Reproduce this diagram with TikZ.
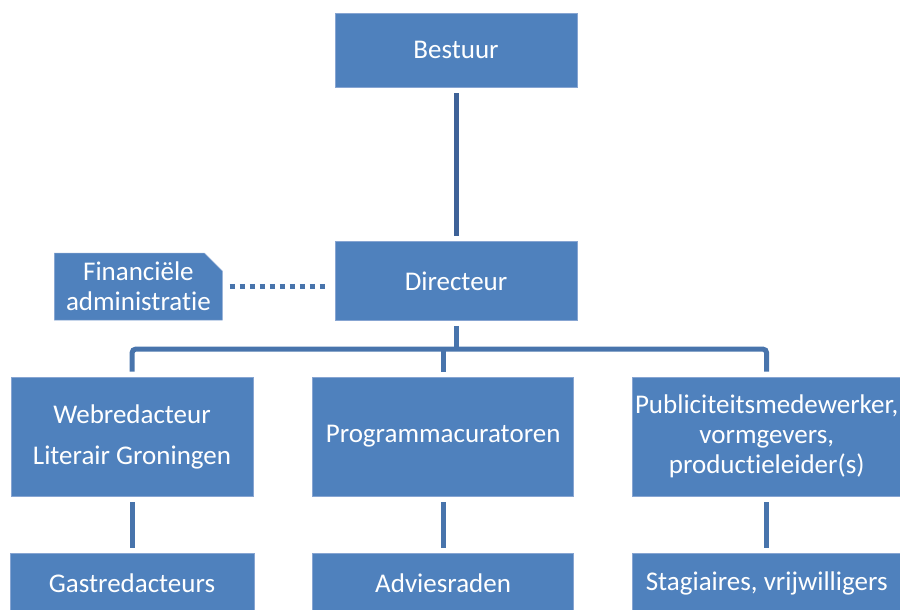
\documentclass[tikz,border=0pt]{standalone}
\usepackage{fontspec}
\setmainfont{Carlito}[Ligatures=NoCommon]
\usetikzlibrary{positioning,shapes.misc}
\definecolor{boxblue}{RGB}{79,129,189}
\definecolor{boxedge}{RGB}{135,165,210}
\definecolor{linkblue}{RGB}{72,116,172}
\definecolor{stemblue}{RGB}{62,98,152}

\tikzstyle{box} = [rectangle, fill=boxblue, draw=boxedge, line width=0.6pt, text=white, align=center, inner sep=0pt, font=\fontsize{27}{30}\selectfont]
\tikzstyle{link} = [linkblue, line width=5pt]

\begin{document}
\begin{tikzpicture}[x=1pt,y=-1pt]
  \useasboundingbox (0,0) rectangle (900,610);

  \node (Bestuur) [box, minimum width=242pt, minimum height=74pt] at (456,50) {Bestuur};
  \node (Directeur) [box, minimum width=242pt, minimum height=79pt, below=154pt of Bestuur] {Directeur};
  \node (Financien) [box, chamfered rectangle, chamfered rectangle corners=north east, chamfered rectangle sep=9pt, minimum width=168pt, minimum height=64pt, left=112pt of Directeur, yshift=-5.5pt] {Financiële\\administratie};

  \node (Web) [box, minimum width=242pt, minimum height=119pt] at (132,436.5) {Webredacteur\\[11pt]Literair Groningen};
  \node (Prog) [box, minimum width=261pt, minimum height=119pt, right=59pt of Web] {Programmacuratoren};
  \node (Pub) [box, minimum width=269pt, minimum height=119pt, right=58pt of Prog] {Publiciteitsmedewerker,\\vormgevers,\\productieleider(s)};

  \node (Gast) [box, minimum width=244pt, minimum height=60pt, below=57pt of Web] {Gastredacteurs};
  \node (Advies) [box, minimum width=261pt, minimum height=60pt, below=57pt of Prog] {Adviesraden};
  \node (Stag) [box, minimum width=269pt, minimum height=60pt, below=57pt of Pub] {Stagiaires, vrijwilligers};

  \coordinate (bar) at (456,349);

  \draw [link, stemblue, shorten <=6pt, shorten >=5pt] (Bestuur) -- (Directeur);
  \draw [link, dash pattern=on 5pt off 5pt, shorten <=7pt, shorten >=6pt] (Financien.east) -- (Financien.east -| Directeur.west);
  \draw [link, shorten <=5pt] (Directeur.south) -- (Directeur.south |- bar);
  \draw [link, rounded corners=4pt, shorten <=5pt, shorten >=5pt] (Web.north) |- (bar) -| (Pub.north);
  \draw [link, shorten <=5pt] (Prog.north) -- (Prog.north |- bar);

  \draw [link, shorten <=6pt, shorten >=5pt] (Web) -- (Gast);
  \draw [link, shorten <=6pt, shorten >=5pt] (Prog) -- (Advies);
  \draw [link, shorten <=6pt, shorten >=5pt] (Pub) -- (Stag);
\end{tikzpicture}
\end{document}
